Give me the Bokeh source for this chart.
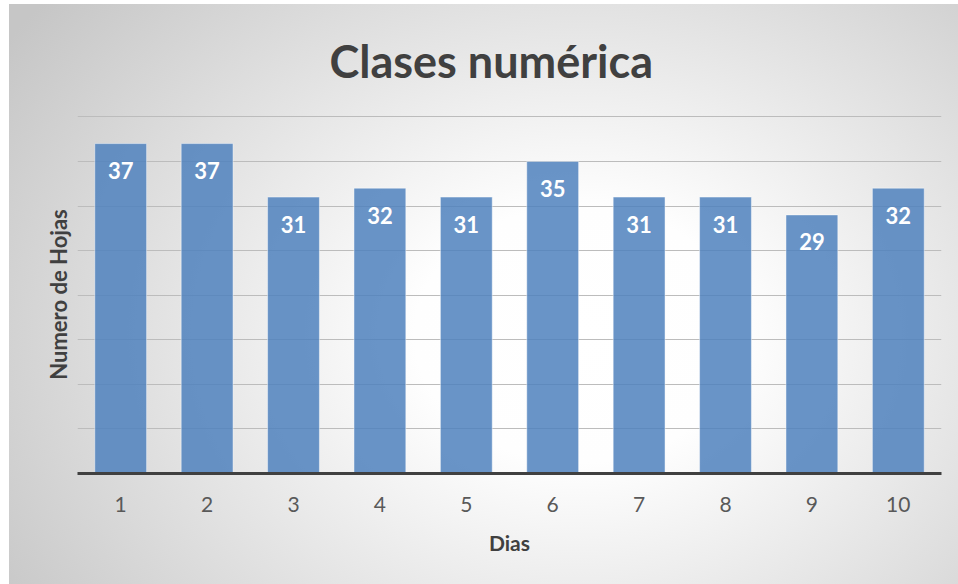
from bokeh.plotting import figure
from bokeh.models import ColumnDataSource, FixedTicker, Range1d, Title
from bokeh.core.properties import value
from bokeh.embed import file_html
from bokeh.resources import INLINE

# ---- data ----
dias = ["1", "2", "3", "4", "5", "6", "7", "8", "9", "10"]
hojas = [37, 37, 31, 32, 31, 35, 31, 31, 29, 32]
y_ticks = [0, 5, 10, 15, 20, 25, 30, 35, 40]
titulo = "Clases numérica"
x_titulo = "Dias"
y_titulo = "Numero de Hojas"

source = ColumnDataSource(dict(dia=dias, hojas=hojas, etiqueta=[str(v) for v in hojas]))

FONT = "Lato"

p = figure(
    x_range=dias,
    y_range=Range1d(0, 40.15),
    width=949,
    height=580,
    output_backend="svg",
    toolbar_location=None,
    min_border_left=68,
    min_border_right=17,
    min_border_top=111,
    min_border_bottom=111,
)
p.margin = (4, 0, 0, 9)
p.styles = {
    "background": "radial-gradient(ellipse 72% 92% at 60% 57%, #ffffff 0%, #fefefe 24%, #c6c6c6 100%)",
}
p.border_fill_alpha = 0
p.background_fill_alpha = 0
p.outline_line_color = None

p.title = Title(text=titulo, align="left", offset=252, vertical_align="top",
                text_font=FONT, text_font_size="45px",
                text_font_style="bold", text_color="#404040", standoff=52)

p.vbar(x="dia", top="hojas", width=0.6, source=source,
       fill_color="#4f81bd", fill_alpha=0.85,
       line_color="#ffffff", line_alpha=0.45, line_width=1)

p.text(x="dia", y="hojas", text="etiqueta", source=source,
       y_offset=27, text_align="center", text_baseline="middle",
       text_font=value(FONT), text_font_size="22px", text_font_style="bold",
       text_color="#ffffff")

# grid
p.xgrid.grid_line_color = None
p.ygrid.ticker = FixedTicker(ticks=y_ticks)
p.ygrid.grid_line_color = "#bcbcbc"
p.ygrid.grid_line_width = 1

# y axis: only the title (no tick labels)
p.yaxis.ticker = FixedTicker(ticks=[])
p.yaxis.axis_line_color = None
p.yaxis.major_tick_line_color = None
p.yaxis.minor_tick_line_color = None
p.yaxis.major_tick_out = 0
p.yaxis.major_label_standoff = 0
p.yaxis.axis_label = y_titulo
p.yaxis.axis_label_text_font = FONT
p.yaxis.axis_label_text_font_size = "22px"
p.yaxis.axis_label_text_font_style = "bold"
p.yaxis.axis_label_text_color = "#404040"
p.yaxis.axis_label_standoff = 6

# x axis
p.xaxis.axis_line_color = "#404040"
p.xaxis.axis_line_width = 3
p.xaxis.major_tick_line_color = None
p.xaxis.major_tick_out = 0
p.xaxis.major_label_standoff = 23
p.xaxis.major_label_text_font = FONT
p.xaxis.major_label_text_font_size = "21px"
p.xaxis.major_label_text_color = "#595959"
p.xaxis.axis_label = x_titulo
p.xaxis.axis_label_text_font = FONT
p.xaxis.axis_label_text_font_size = "21px"
p.xaxis.axis_label_text_font_style = "bold"
p.xaxis.axis_label_text_color = "#404040"
p.xaxis.axis_label_standoff = 15
p.x_range.range_padding = 0

open("out.html", "w").write(file_html(p, INLINE))
